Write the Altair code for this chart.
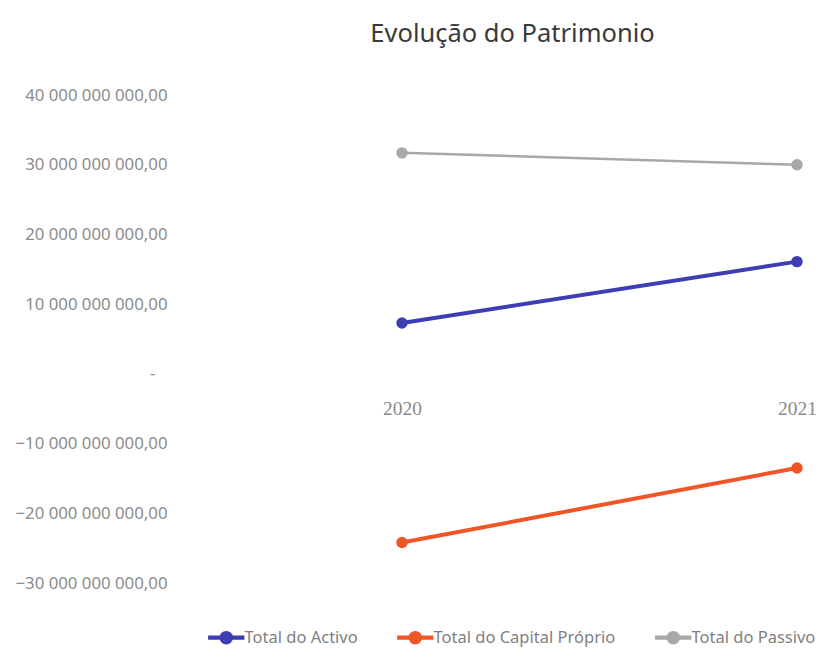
import altair as alt
import pandas as pd

years = ["2020", "2021"]
series = ["Total do Activo", "Total do Capital Próprio", "Total do Passivo"]
activo = [7.3e9, 16.1e9]
capital = [-24.2e9, -13.5e9]
passivo = [31.7e9, 30.0e9]
colors = ["#3d3db4", "#ef5527", "#a8a8a8"]
y_ticks = [-3e10, -2e10, -1e10, 0, 1e10, 2e10, 3e10, 4e10]
title_text = "Evolução do Patrimonio"

rows = []
for s, vals in zip(series, [activo, capital, passivo]):
    for yr, v in zip(years, vals):
        rows.append({"Ano": yr, "Serie": s, "Valor": v})
df = pd.DataFrame(rows)

xscale = alt.Scale(type="point", domain=years, range=[222, 617], padding=0)
yscale = alt.Scale(domain=[-3e10, 4e10], nice=False, zero=False)
cscale = alt.Scale(domain=series, range=colors)

label_expr = (
    "datum.value == 0 ? '-\u2800' : "
    "replace(replace(format(datum.value, ',.2f'), regexp(',', 'g'), ' '), '.', ',')"
)

x_enc = alt.X(
    "Ano:N", scale=xscale, title=None,
    axis=alt.Axis(offset=-209, domain=False, ticks=False, grid=False, labelAngle=0,
                  labelFont="Liberation Serif", labelFontSize=19.5, labelColor="#8a8a8a",
                  labelPadding=25),
)
y_enc = alt.Y(
    "Valor:Q", scale=yscale, title=None,
    axis=alt.Axis(values=y_ticks, labelExpr=label_expr, grid=False, domain=False, ticks=False,
                  labelFont="Noto Sans", labelFontSize=16.8, labelColor="#8c8c8c",
                  labelPadding=13),
)

# line pieces on both sides of a circle
symbol_path = ("M-2.9,-0.22L-0.9,-0.22L-0.9,0.22L-2.9,0.22Z"
               "M0.9,-0.22L2.9,-0.22L2.9,0.22L0.9,0.22Z"
               "M-1,0A1,1,0,1,1,1,0A1,1,0,1,1,-1,0Z")

legend = alt.Legend(
    orient="none", legendX=38, legendY=534, direction="horizontal", title=None,
    symbolType=symbol_path, symbolSize=144, symbolStrokeWidth=1.5, symbolOpacity=1,
    labelOffset=10, columnPadding=36, labelFont="Noto Sans", labelFontSize=16.5,
    labelColor="#7f7f7f", labelLimit=400,
)

lines = alt.Chart(df).mark_line().encode(
    x=x_enc,
    y=y_enc,
    color=alt.Color("Serie:N", scale=cscale, legend=legend),
    strokeWidth=alt.condition(alt.datum.Serie == "Total do Passivo", alt.value(2.5), alt.value(4)),
)

points = alt.Chart(df).mark_point(filled=True, size=130, opacity=1).encode(
    x=x_enc,
    y=y_enc,
    color=alt.Color("Serie:N", scale=cscale, legend=legend),
)

chart = alt.layer(lines, points).properties(
    width=645,
    height=488,
    autosize=alt.AutoSizeParams(type="none"),
    padding={"left": 172, "top": 87, "right": 0, "bottom": 70},
    background="white",
    title=alt.TitleParams(title_text, font="Noto Sans", fontSize=25.5, color="#3a3a3a",
                          fontWeight="normal", anchor="middle", dx=10, offset=40),
).configure_view(stroke=None)

chart.save("out.html", embed_options={"renderer": "svg", "actions": False})
